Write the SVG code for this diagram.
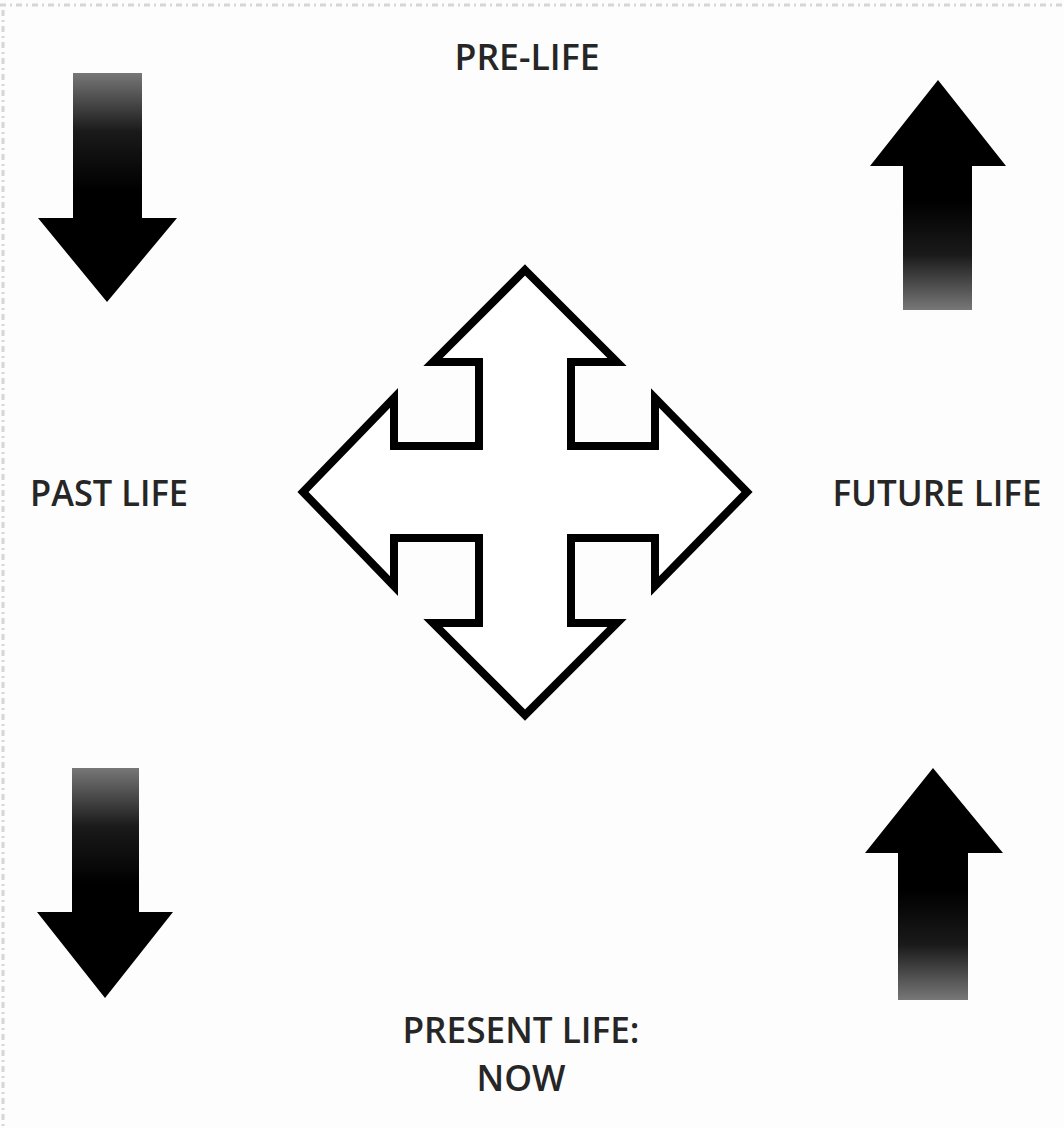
<svg xmlns="http://www.w3.org/2000/svg" width="1064" height="1128" viewBox="0 0 1064 1128">
  <defs>
    <linearGradient id="gDownTL" gradientUnits="userSpaceOnUse" x1="0" y1="73" x2="0" y2="190">
      <stop offset="0" stop-color="#777"/>
      <stop offset="0.5" stop-color="#1a1a1a"/>
      <stop offset="1" stop-color="#000"/>
    </linearGradient>
    <linearGradient id="gDownBL" gradientUnits="userSpaceOnUse" x1="0" y1="768" x2="0" y2="885">
      <stop offset="0" stop-color="#777"/>
      <stop offset="0.5" stop-color="#1a1a1a"/>
      <stop offset="1" stop-color="#000"/>
    </linearGradient>
    <linearGradient id="gUpTR" gradientUnits="userSpaceOnUse" x1="0" y1="310" x2="0" y2="200">
      <stop offset="0" stop-color="#777"/>
      <stop offset="0.5" stop-color="#1a1a1a"/>
      <stop offset="1" stop-color="#000"/>
    </linearGradient>
    <linearGradient id="gUpBR" gradientUnits="userSpaceOnUse" x1="0" y1="1000" x2="0" y2="890">
      <stop offset="0" stop-color="#777"/>
      <stop offset="0.5" stop-color="#1a1a1a"/>
      <stop offset="1" stop-color="#000"/>
    </linearGradient>
  </defs>
  <style>
    .lbl { font-family: "Open Sans", "Noto Sans", "Liberation Sans", sans-serif; font-size: 36px; font-weight: 600; fill: #262626; text-anchor: middle; }
    .cross { fill: #ffffff; stroke: #000000; stroke-width: 8; stroke-linejoin: miter; }
    .scan { fill: none; stroke: #d6d6d6; stroke-width: 3; stroke-dasharray: 6 4 2 4; }
  </style>
  <rect x="0" y="0" width="1064" height="1128" fill="#fdfdfd"/>
  <g id="scan-edge">
    <line class="scan" x1="0" y1="5" x2="1064" y2="5"/>
    <line class="scan" x1="3" y1="10" x2="3" y2="1128"/>
  </g>

  <g id="arrow-top-left">
    <polygon fill="url(#gDownTL)" points="73,73 142,73 142,218 177,218 107,302 38,218 73,218"/>
  </g>
  <g id="arrow-bottom-left">
    <polygon fill="url(#gDownBL)" points="72,768 139,768 139,912 173,912 105,998 37,912 72,912"/>
  </g>
  <g id="arrow-top-right">
    <polygon fill="url(#gUpTR)" points="938,80 1006,166 972,166 972,310 903,310 903,166 870,166"/>
  </g>
  <g id="arrow-bottom-right">
    <polygon fill="url(#gUpBR)" points="933,768 1003,853 968,853 968,1000 898,1000 898,853 865,853"/>
  </g>

  <g id="center-cross">
    <polygon class="cross" points="525,270 617,362 571,362 571,446 655,446 655,398 747,492 655,586 655,538 571,538 571,623 617,623 525,715 433,623 479,623 479,538 394,538 394,586 303,492 394,398 394,446 479,446 479,362 433,362"/>
  </g>

  <g id="label-pre-life">
    <text class="lbl" x="527" y="70" textLength="145" lengthAdjust="spacingAndGlyphs">PRE-LIFE</text>
  </g>
  <g id="label-past-life">
    <text class="lbl" x="109" y="506" textLength="158" lengthAdjust="spacingAndGlyphs">PAST LIFE</text>
  </g>
  <g id="label-future-life">
    <text class="lbl" x="937" y="506" textLength="209" lengthAdjust="spacingAndGlyphs">FUTURE LIFE</text>
  </g>
  <g id="label-present-life">
    <text class="lbl" x="521" y="1043" textLength="237" lengthAdjust="spacingAndGlyphs">PRESENT LIFE:</text>
    <text class="lbl" x="521" y="1091" textLength="89" lengthAdjust="spacingAndGlyphs">NOW</text>
  </g>
</svg>
